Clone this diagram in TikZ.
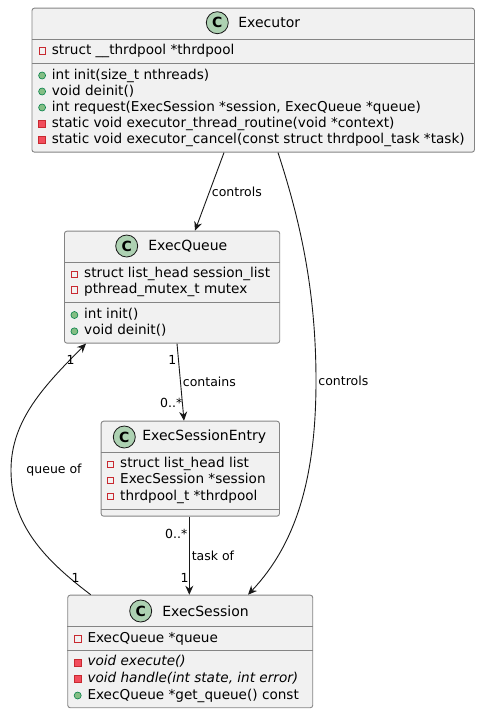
\documentclass[tikz,border=0pt]{standalone}
\usepackage{fontspec}
\setmainfont{DejaVu Sans}
\usepackage{tikz}
\usetikzlibrary{arrows.meta, positioning}

\definecolor{boxfill}{HTML}{F1F1F1}
\definecolor{boxline}{HTML}{848484}
\definecolor{linedark}{HTML}{181818}
\definecolor{iconfill}{HTML}{ADD1B2}
\definecolor{privred}{HTML}{C82930}
\definecolor{privfill}{HTML}{F24D5C}
\definecolor{pubgreen}{HTML}{038048}
\definecolor{publight}{HTML}{84BE84}

\begin{document}
\begin{tikzpicture}[
		x=1pt, y=-1pt,
		every node/.style={font=\fontsize{13.6}{16}\selectfont},
		classbox/.style={
			rectangle,
			draw=boxline,
			fill=boxfill,
			line width=0.9pt,
			rounded corners=2.5pt,
			anchor=north west,
			inner sep=0pt
		},
		sepline/.style={draw=boxline, line width=0.9pt},
		cicon/.style={
			circle,
			draw=linedark,
			fill=iconfill,
			line width=0.8pt,
			minimum size=22pt,
			inner sep=0pt,
			font=\fontsize{14}{14}\selectfont\bfseries
		},
		cname/.style={inner sep=0pt, font=\fontsize{14}{16}\selectfont},
		member/.style={
			anchor=west,
			inner sep=0pt,
			text height=10pt,
			text depth=3pt
		},
		attrmark/.style={rectangle, draw=privred, line width=0.8pt, minimum size=6.5pt, inner sep=0pt, xshift=-5.8pt},
		privmark/.style={rectangle, draw=privred, fill=privfill, line width=0.6pt, minimum size=7pt, inner sep=0pt, xshift=-5.8pt},
		pubmark/.style={circle, draw=pubgreen, fill=publight, line width=0.6pt, minimum size=7pt, inner sep=0pt, xshift=-5.8pt},
		field/.style={member, label={[attrmark]left:{}}},
		privop/.style={member, label={[privmark]left:{}}},
		pubop/.style={member, label={[pubmark]left:{}}},
		assoc/.style={
			draw=linedark,
			line width=0.9pt,
			-{Stealth[length=9pt, width=8pt, inset=3pt]}
		},
		elabel/.style={inner sep=2pt, font=\fontsize{12.5}{14}\selectfont},
		mult/.style={inner sep=0pt, font=\fontsize{12.5}{14}\selectfont}
		]
		\useasboundingbox (0,0) rectangle (480,713);
		
		% Executor
		\node[classbox, minimum width=442.5pt, minimum height=144pt] (executor) at (31.5,7.7) {};
		\node[cicon] (executor-c) at (217.3,22.7) {C};
		\node[cname, right=9.5pt of executor-c] (executor-name) {Executor};
		\draw[sepline] ([yshift=-31.6pt]executor.north west) -- ([yshift=-31.6pt]executor.north east);
		\draw[sepline] ([yshift=-56pt]executor.north west) -- ([yshift=-56pt]executor.north east);
		\node[field] (executor-a1) at (51.7,51) {struct \_\_thrdpool *thrdpool};
		\node[pubop] (executor-m1) at (51.7,75.5) {int init(size\_t nthreads)};
		\node[pubop] (executor-m2) at (51.7,91.5) {void deinit()};
		\node[pubop] (executor-m3) at (51.7,107.5) {int request(ExecSession *session, ExecQueue *queue)};
		\node[privop] (executor-m4) at (51.7,123.5) {static void executor\_thread\_routine(void *context)};
		\node[privop] (executor-m5) at (51.7,139.5) {static void executor\_cancel(const struct thrdpool\_task *task)};
		
		% ExecQueue
		\node[classbox, minimum width=215.3pt, minimum height=112pt] (execqueue) at (64,230.7) {};
		\node[cicon] (execqueue-c) at (126.7,246) {C};
		\node[cname, right=10pt of execqueue-c] (execqueue-name) {ExecQueue};
		\draw[sepline] ([yshift=-32pt]execqueue.north west) -- ([yshift=-32pt]execqueue.north east);
		\draw[sepline] ([yshift=-72pt]execqueue.north west) -- ([yshift=-72pt]execqueue.north east);
		\node[field] (execqueue-a1) at (84,274.3) {struct list\_head session\_list};
		\node[field] (execqueue-a2) at (84,290) {pthread\_mutex\_t mutex};
		\node[pubop] (execqueue-m1) at (84,315) {int init()};
		\node[pubop] (execqueue-m2) at (84,331.3) {void deinit()};
		
		% ExecSessionEntry
		\node[classbox, minimum width=178.3pt, minimum height=95pt] (execsessionentry) at (100.7,420.7) {};
		\node[cicon] (execsessionentry-c) at (124.3,437) {C};
		\node[cname, right=6.5pt of execsessionentry-c] (execsessionentry-name) {ExecSessionEntry};
		\draw[sepline] ([yshift=-32pt]execsessionentry.north west) -- ([yshift=-32pt]execsessionentry.north east);
		\draw[sepline] ([yshift=-88.3pt]execsessionentry.north west) -- ([yshift=-88.3pt]execsessionentry.north east);
		\node[field] (execsessionentry-a1) at (120,464.3) {struct list\_head list};
		\node[field] (execsessionentry-a2) at (120,480.3) {ExecSession *session};
		\node[field] (execsessionentry-a3) at (120,496.5) {thrdpool\_t *thrdpool};
		
		% ExecSession
		\node[classbox, minimum width=245pt, minimum height=112.6pt] (execsession) at (67.3,594.7) {};
		\node[cicon] (execsession-c) at (140.7,611) {C};
		\node[cname, right=10pt of execsession-c] (execsession-name) {ExecSession};
		\draw[sepline] ([yshift=-32pt]execsession.north west) -- ([yshift=-32pt]execsession.north east);
		\draw[sepline] ([yshift=-56pt]execsession.north west) -- ([yshift=-56pt]execsession.north east);
		\node[field] (execsession-a1) at (87.3,639) {ExecQueue *queue};
		\node[privop] (execsession-m1) at (87.3,662.3) {\itshape void execute()};
		\node[privop] (execsession-m2) at (87.3,679) {\itshape void handle(int state, int error)};
		\node[pubop] (execsession-m3) at (87.3,695.5) {ExecQueue *get\_queue() const};
		
		% Associations
		\draw[assoc] ([xshift=192.5pt]executor.south west) -- node[elabel, right] (queue-ctl) {controls} ([xshift=131pt]execqueue.north west);
		
		\draw[assoc] ([xshift=246.5pt]executor.south west)
		.. controls (300,220) and (316,290) .. (316,381) node[elabel, right] (session-ctl) {controls}
		.. controls (316,480) and (295,545) .. ([xshift=180.7pt]execsession.north west);
		
		\draw[assoc] ([xshift=113pt]execqueue.south west) -- node[elabel, right] (entry-cont) {contains}
		node[mult, at start, anchor=north east, xshift=-0.3pt, yshift=-11.7pt] (queue-m1) {1}
		node[mult, at end, anchor=south east, xshift=-1.3pt, yshift=12.1pt] (entry-m1) {0..*}
		([xshift=83.3pt]execsessionentry.north west);
		
		\draw[assoc] ([xshift=88.6pt]execsessionentry.south west) -- node[elabel, right] (entry-task) {task of}
		node[mult, at start, anchor=north east, xshift=-1.6pt, yshift=-12.5pt] (entry-m2) {0..*}
		node[mult, at end, anchor=south east, xshift=-0.3pt, yshift=11.8pt] (session-m1) {1}
		([xshift=122pt]execsession.north west);
		
		% queue of (loops round the left side)
		\draw[assoc] ([xshift=23.4pt]execsession.north west)
		.. controls (45,560) and (11,525) .. (11,470)
		node[mult, at start, anchor=south east, xshift=-10.7pt, yshift=11.8pt] (session-m2) {1}
		node[elabel, right=13pt] (session-qof) {queue of}
		.. controls (11,420) and (45,385) .. ([xshift=22pt]execqueue.south west)
		node[mult, at end, anchor=north east, xshift=-11pt, yshift=-11.7pt] (queue-m2) {1};
\end{tikzpicture}
\end{document}
